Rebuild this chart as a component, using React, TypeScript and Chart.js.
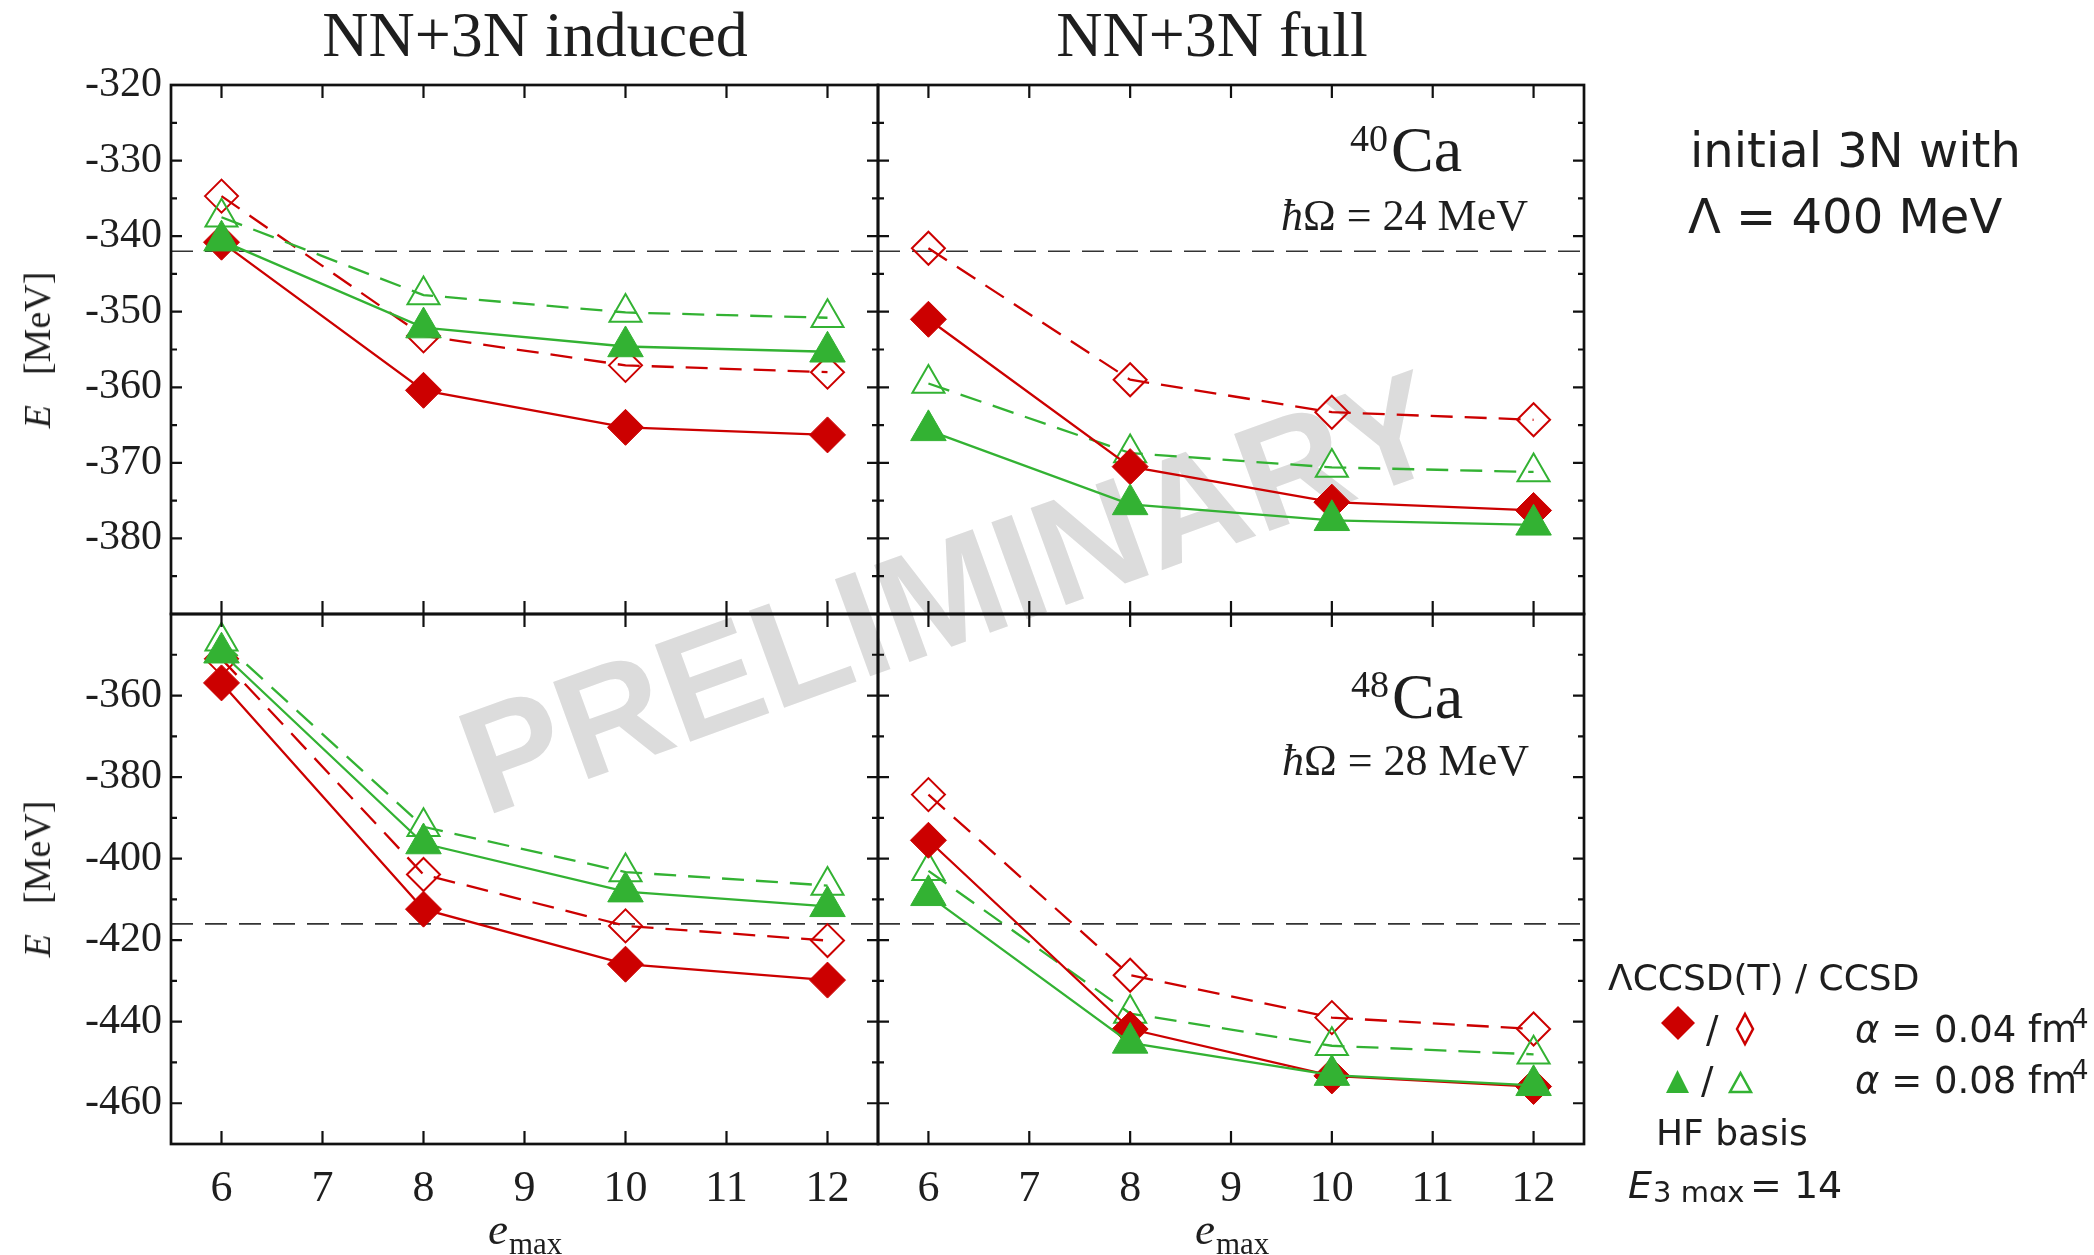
import React, { useEffect, useRef } from 'react';
import { Chart, registerables } from 'chart.js';

Chart.register(...registerables);

const W = 2094;
const H = 1255;
const RED = 'rgb(204,0,0)';
const GREEN = 'rgb(51,178,51)';
const INK = '#1e1e1e';
const SERIF = '"Liberation Serif", "Times New Roman", serif';
const SANS = '"DejaVu Sans", sans-serif';

// ---------- data ----------
const EMAX = [6, 8, 10, 12];
const X_TICKS = [6, 7, 8, 9, 10, 11, 12];
const TOP_Y_LABELS = [-380, -370, -360, -350, -340, -330, -320];
const TOP_Y_MINOR = [-385, -375, -365, -355, -345, -335, -325];
const BOT_Y_LABELS = [-460, -440, -420, -400, -380, -360];
const BOT_Y_MINOR = [-450, -430, -410, -390, -370, -350];

// 40Ca, NN+3N induced
const ca40IndLccsdtA04 = [-340.8, -360.4, -365.3, -366.3];
const ca40IndCcsdA04 = [-334.7, -353.2, -357.1, -358.0];
const ca40IndLccsdtA08 = [-340.6, -352.1, -354.6, -355.3];
const ca40IndCcsdA08 = [-337.5, -347.8, -350.1, -350.8];
// 40Ca, NN+3N full
const ca40FullLccsdtA04 = [-351.0, -370.5, -375.2, -376.3];
const ca40FullCcsdA04 = [-341.6, -359.0, -363.3, -364.3];
const ca40FullLccsdtA08 = [-365.7, -375.5, -377.6, -378.2];
const ca40FullCcsdA08 = [-359.5, -368.7, -370.6, -371.2];
// 48Ca, NN+3N induced
const ca48IndLccsdtA04 = [-356.9, -412.4, -425.9, -429.8];
const ca48IndCcsdA04 = [-351.0, -403.9, -416.5, -420.1];
const ca48IndLccsdtA08 = [-349.5, -396.3, -408.1, -411.7];
const ca48IndCcsdA08 = [-346.7, -392.2, -403.3, -406.6];
// 48Ca, NN+3N full
const ca48FullLccsdtA04 = [-395.5, -441.8, -453.3, -455.9];
const ca48FullCcsdA04 = [-384.3, -428.6, -439.0, -441.8];
const ca48FullLccsdtA08 = [-409.0, -445.2, -453.1, -455.6];
const ca48FullCcsdA08 = [-403.0, -438.0, -445.9, -448.0];

const REF_40 = -342.0;
const REF_48 = -416.0;

type PanelCfg = {
  left: number; top: number; right: number; bottom: number;
  yMin: number; yMax: number;
  yLabels: number[]; yMinor: number[];
  showY: boolean; showX: boolean;
  lccsdt04: number[]; ccsd04: number[]; lccsdt08: number[]; ccsd08: number[];
  ref: number;
};

const X_AXIS_H = 80;

const PANELS: PanelCfg[] = [
  { left: 171, top: 85, right: 878, bottom: 614, yMin: -390, yMax: -320, yLabels: TOP_Y_LABELS, yMinor: TOP_Y_MINOR, showY: true, showX: false,
    lccsdt04: ca40IndLccsdtA04, ccsd04: ca40IndCcsdA04, lccsdt08: ca40IndLccsdtA08, ccsd08: ca40IndCcsdA08, ref: REF_40 },
  { left: 878, top: 85, right: 1584, bottom: 614, yMin: -390, yMax: -320, yLabels: TOP_Y_LABELS, yMinor: TOP_Y_MINOR, showY: false, showX: false,
    lccsdt04: ca40FullLccsdtA04, ccsd04: ca40FullCcsdA04, lccsdt08: ca40FullLccsdtA08, ccsd08: ca40FullCcsdA08, ref: REF_40 },
  { left: 171, top: 614, right: 878, bottom: 1144, yMin: -470, yMax: -340, yLabels: BOT_Y_LABELS, yMinor: BOT_Y_MINOR, showY: true, showX: true,
    lccsdt04: ca48IndLccsdtA04, ccsd04: ca48IndCcsdA04, lccsdt08: ca48IndLccsdtA08, ccsd08: ca48IndCcsdA08, ref: REF_48 },
  { left: 878, top: 614, right: 1584, bottom: 1144, yMin: -470, yMax: -340, yLabels: BOT_Y_LABELS, yMinor: BOT_Y_MINOR, showY: false, showX: true,
    lccsdt04: ca48FullLccsdtA04, ccsd04: ca48FullCcsdA04, lccsdt08: ca48FullLccsdtA08, ccsd08: ca48FullCcsdA08, ref: REF_48 },
];

function pts(vals: number[]) {
  return EMAX.map((x, i) => ({ x, y: vals[i] }));
}

function buildConfig(p: PanelCfg): any {
  const yAxisW = p.showY ? p.left : 0;
  const framePlugin = {
    id: 'frameTicks',
    afterDraw(chart: any) {
      const { ctx, chartArea: a } = chart;
      const xs = chart.scales.x;
      const ys = chart.scales.y;
      ctx.save();
      ctx.strokeStyle = '#111';
      ctx.lineWidth = 2.2;
      ctx.beginPath();
      for (const v of X_TICKS) {
        const px = xs.getPixelForValue(v);
        ctx.moveTo(px, a.bottom); ctx.lineTo(px, a.bottom - 13);
        ctx.moveTo(px, a.top); ctx.lineTo(px, a.top + 13);
      }
      for (const v of p.yLabels) {
        const py = ys.getPixelForValue(v);
        ctx.moveTo(a.left, py); ctx.lineTo(a.left + 11, py);
        ctx.moveTo(a.right, py); ctx.lineTo(a.right - 11, py);
      }
      for (const v of p.yMinor) {
        const py = ys.getPixelForValue(v);
        ctx.moveTo(a.left, py); ctx.lineTo(a.left + 6, py);
        ctx.moveTo(a.right, py); ctx.lineTo(a.right - 6, py);
      }
      ctx.stroke();
      ctx.lineWidth = 2.7;
      ctx.strokeRect(a.left, a.top, a.right - a.left, a.bottom - a.top);
      ctx.restore();
    },
  };

  return {
    type: 'line',
    data: {
      datasets: [
        { label: 'reference', data: [{ x: 5.5, y: p.ref }, { x: 12.5, y: p.ref }], borderColor: '#333', borderWidth: 1.6,
          borderDash: [22, 12], pointRadius: 0, order: 10 },
        { label: 'CCSD α=0.04', data: pts(p.ccsd04), borderColor: RED, borderWidth: 2.3, borderDash: [22, 12],
          pointStyle: 'rectRot', pointRadius: 16.5, pointBorderWidth: 2, pointBorderColor: RED,
          pointBackgroundColor: 'rgba(0,0,0,0)', order: 4, clip: false },
        { label: 'CCSD α=0.08', data: pts(p.ccsd08), borderColor: GREEN, borderWidth: 2.3, borderDash: [22, 12],
          pointStyle: 'triangle', pointRadius: 18.5, pointBorderWidth: 2, pointBorderColor: GREEN,
          pointBackgroundColor: 'rgba(0,0,0,0)', order: 3, clip: false },
        { label: 'ΛCCSD(T) α=0.04', data: pts(p.lccsdt04), borderColor: RED, borderWidth: 2.3,
          pointStyle: 'rectRot', pointRadius: 18, pointBorderWidth: 1, pointBorderColor: RED,
          pointBackgroundColor: RED, order: 2, clip: false },
        { label: 'ΛCCSD(T) α=0.08', data: pts(p.lccsdt08), borderColor: GREEN, borderWidth: 2.3,
          pointStyle: 'triangle', pointRadius: 20.5, pointBorderWidth: 1, pointBorderColor: GREEN,
          pointBackgroundColor: GREEN, order: 1, clip: false },
      ],
    },
    options: {
      animation: false,
      responsive: false,
      maintainAspectRatio: false,
      devicePixelRatio: 1,
      events: [],
      layout: {
        padding: {
          left: p.left - yAxisW,
          top: p.top,
          right: W - p.right,
          bottom: H - p.bottom - (p.showX ? X_AXIS_H : 0),
        },
      },
      plugins: { legend: { display: false }, tooltip: { enabled: false }, title: { display: false } },
      scales: {
        x: {
          type: 'linear', position: 'bottom', min: 5.5, max: 12.5,
          afterBuildTicks: (s: any) => { s.ticks = X_TICKS.map((v) => ({ value: v })); },
          afterFit: (s: any) => { s.height = p.showX ? X_AXIS_H : 0; },
          grid: { display: false, drawTicks: false },
          border: { display: false },
          ticks: {
            display: p.showX, autoSkip: false, maxRotation: 0, padding: 19, color: INK,
            font: { family: SERIF, size: 44 },
            callback: (v: any) => String(v),
          },
        },
        y: {
          type: 'linear', position: 'left', min: p.yMin, max: p.yMax,
          afterBuildTicks: (s: any) => { s.ticks = p.yLabels.map((v) => ({ value: v })); },
          afterFit: (s: any) => { s.width = yAxisW; },
          grid: { display: false, drawTicks: false },
          border: { display: false },
          ticks: {
            display: p.showY, autoSkip: false, padding: 9, color: INK,
            font: { family: SERIF, size: 42 },
            callback: (v: any) => String(v),
          },
        },
      },
    },
    plugins: [framePlugin],
  };
}

function Panel({ cfg }: { cfg: PanelCfg }) {
  const ref = useRef<HTMLCanvasElement>(null);
  useEffect(() => {
    const chart = new Chart(ref.current as HTMLCanvasElement, buildConfig(cfg));
    return () => chart.destroy();
  }, [cfg]);
  return (
    <canvas ref={ref} width={W} height={H}
      style={{ position: 'absolute', left: 0, top: 0, width: W, height: H }} />
  );
}

// text placed by its baseline
function T({ x, y, size, family, anchor = 'left', italic = false, children }: any) {
  const asc = family === SERIF ? 0.8375 : 0.846;
  const tx = anchor === 'center' ? 'translateX(-50%)' : anchor === 'right' ? 'translateX(-100%)' : 'none';
  return (
    <div style={{
      position: 'absolute', left: x, top: y - asc * size, fontSize: size, lineHeight: `${size}px`,
      fontFamily: family, whiteSpace: 'nowrap', transform: tx, color: INK,
      fontStyle: italic ? 'italic' : 'normal',
    }}>{children}</div>
  );
}

function YTitle({ cy }: { cy: number }) {
  return (
    <div style={{
      position: 'absolute', left: 37, top: cy, transform: 'translate(-50%,-50%) rotate(-90deg)',
      fontFamily: SERIF, fontSize: 38, lineHeight: '38px', whiteSpace: 'nowrap', color: INK,
    }}>
      <i>E</i><span style={{ marginLeft: 30 }}>[MeV]</span>
    </div>
  );
}

export default function App() {
  return (
    <div style={{ position: 'absolute', left: 0, top: 0, width: W, height: H, background: '#fff', overflow: 'hidden' }}>
      <div style={{
        position: 'absolute', left: 950, top: 592, transform: 'translate(-50%,-50%) rotate(-20deg)',
        fontFamily: '"Liberation Sans", Arial, sans-serif', fontWeight: 700, fontSize: 150, lineHeight: '150px',
        color: '#dcdcdc', whiteSpace: 'nowrap',
      }}>PRELIMINARY</div>

      {PANELS.map((p, i) => <Panel key={i} cfg={p} />)}

      <T x={535} y={57} size={64} family={SERIF} anchor="center">NN+3N induced</T>
      <T x={1212} y={57} size={64} family={SERIF} anchor="center">NN+3N full</T>

      <T x={1350} y={151} size={38} family={SERIF}>40</T>
      <T x={1391} y={172} size={64} family={SERIF}>Ca</T>
      <T x={1528} y={231} size={44} family={SERIF} anchor="right"><i>ħ</i>Ω = 24 MeV</T>

      <T x={1351} y={697} size={38} family={SERIF}>48</T>
      <T x={1392} y={719} size={64} family={SERIF}>Ca</T>
      <T x={1529} y={776} size={44} family={SERIF} anchor="right"><i>ħ</i>Ω = 28 MeV</T>

      <YTitle cy={350} />
      <YTitle cy={879} />

      <T x={488} y={1245} size={45} family={SERIF} italic>e</T>
      <T x={509} y={1254} size={31} family={SERIF}>max</T>
      <T x={1195} y={1245} size={45} family={SERIF} italic>e</T>
      <T x={1216} y={1254} size={31} family={SERIF}>max</T>

      <T x={1690} y={167} size={48} family={SANS}>initial 3N with</T>
      <T x={1688} y={233} size={48} family={SANS}>Λ = 400 MeV</T>

      <T x={1608} y={990} size={36} family={SANS}>ΛCCSD(T) / CCSD</T>
      <T x={1706} y={1042} size={37} family={SANS}>/</T>
      <T x={1855} y={1042} size={37} family={SANS}><i>α</i> = 0.04 fm</T>
      <T x={2072} y={1028} size={26} family={SANS}>4</T>
      <T x={1701} y={1093} size={37} family={SANS}>/</T>
      <T x={1855} y={1093} size={37} family={SANS}><i>α</i> = 0.08 fm</T>
      <T x={2072} y={1079} size={26} family={SANS}>4</T>
      <T x={1656} y={1145} size={36} family={SANS}>HF basis</T>
      <T x={1628} y={1198} size={38} family={SANS} italic>E</T>
      <T x={1653} y={1203} size={29} family={SANS}>3 mɑx</T>
      <T x={1750} y={1198} size={38} family={SANS}>= 14</T>

      <svg width={W} height={H} style={{ position: 'absolute', left: 0, top: 0, pointerEvents: 'none' }}>
        <polygon points="1661,1023 1678,1006 1695,1023 1678,1040" fill={RED} />
        <polygon points="1745,1014 1753,1029 1745,1044 1737,1029" fill="none" stroke={RED} strokeWidth={2.5} />
        <polygon points="1666,1093 1689,1093 1677.5,1070" fill={GREEN} />
        <polygon points="1730,1092 1751,1092 1740.5,1073" fill="none" stroke={GREEN} strokeWidth={2.5} />
      </svg>
    </div>
  );
}
